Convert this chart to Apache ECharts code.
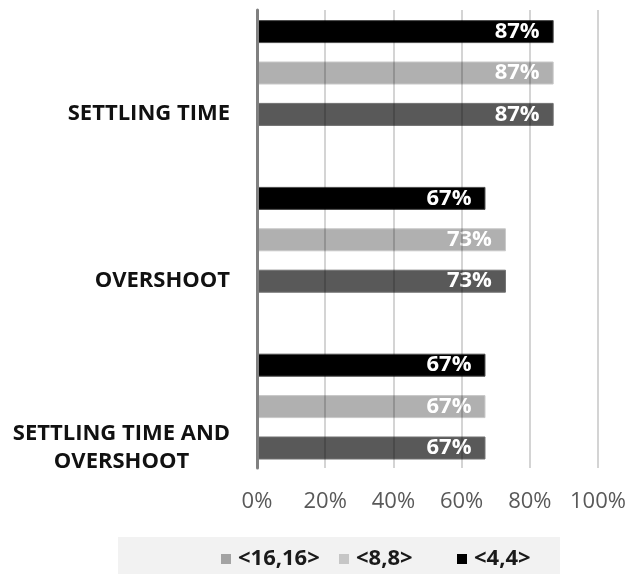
<!DOCTYPE html>
<html>
<head>
<meta charset="utf-8">
<script src="https://cdn.jsdelivr.net/npm/echarts@6/dist/echarts.min.js"></script>
<style>
  html, body { margin: 0; padding: 0; background: #ffffff; }
  #chart { width: 628px; height: 574px; }
</style>
</head>
<body>
<div id="chart"></div>
<script>
// Categories, top to bottom
const categories = ['SETTLING TIME', 'OVERSHOOT', 'SETTLING TIME AND\nOVERSHOOT'];

// Percent of cases per configuration
const seriesNames = ['<4,4>', '<8,8>', '<16,16>'];
const values44 = [87, 67, 67];
const values88 = [87, 73, 67];
const values1616 = [87, 73, 67];

const xTicks = [0, 20, 40, 60, 80, 100];

const FONT = '"Open Sans", "DejaVu Sans", sans-serif';

const chart = echarts.init(document.getElementById('chart'), null, { renderer: 'canvas' });

function barSeries(name, data, color, border) {
  return {
    name: name,
    type: 'bar',
    xAxisIndex: 1,
    yAxisIndex: 1,
    data: data,
    barWidth: 23,
    barGap: '80%',
    itemStyle: { color: color, borderColor: border, borderWidth: 1 },
    label: {
      show: true,
      position: 'insideRight',
      distance: 14,
      formatter: '{c}%',
      color: '#ffffff',
      fontFamily: FONT,
      fontWeight: 'bold',
      fontSize: 22
    },
    z: 2
  };
}

function legendAt(left, name, color) {
  return {
    left: left,
    top: 543,
    itemWidth: 10,
    itemHeight: 10,
    icon: 'rect',
    selectedMode: false,
    itemStyle: { borderWidth: 0 },
    data: [{ name: name, itemStyle: { color: color, borderWidth: 0 } }],
    textStyle: {
      color: '#1a1a1a',
      fontFamily: FONT,
      fontWeight: 'bold',
      fontSize: 22,
      padding: [0, 0, 0, 2]
    }
  };
}

chart.setOption({
  animation: false,
  backgroundColor: '#ffffff',
  graphic: [{
    type: 'rect',
    left: 118,
    top: 537,
    shape: { width: 442, height: 37 },
    style: { fill: '#f2f2f2' },
    z: -1
  }],
  grid: [
    // frame: gridlines, y axis line and percent labels
    { left: 257, right: 30, top: 10, bottom: 106, outerBoundsMode: 'none' },
    // bars and category labels
    { left: 257, right: 30, top: -10.4, bottom: 84, outerBoundsMode: 'none' }
  ],
  xAxis: [
    {
      gridIndex: 0,
      type: 'value',
      min: 0,
      max: 100,
      interval: 20,
      z: 5,
      axisLine: { show: false },
      axisTick: { show: false },
      splitLine: { show: true, lineStyle: { color: 'rgba(0,0,0,0.17)', width: 2 } },
      axisLabel: {
        margin: 23,
        color: '#595959',
        fontFamily: FONT,
        fontSize: 22,
        formatter: function (v) { return xTicks.indexOf(v) >= 0 ? v + '%' : ''; }
      }
    },
    {
      gridIndex: 1,
      type: 'value',
      min: 0,
      max: 100,
      show: false
    }
  ],
  yAxis: [
    {
      gridIndex: 0,
      type: 'value',
      z: 6,
      axisLine: { show: true, lineStyle: { color: '#808080', width: 3 } },
      axisTick: { show: false },
      axisLabel: { show: false },
      splitLine: { show: false }
    },
    {
      gridIndex: 1,
      type: 'category',
      inverse: true,
      data: categories,
      axisLine: { show: false },
      axisTick: { show: false },
      splitLine: { show: false },
      axisLabel: {
        margin: 27,
        padding: [82, 0, 0, 0],
        color: '#111111',
        fontFamily: FONT,
        fontWeight: 'bold',
        fontSize: 22,
        formatter: function (v) {
          if (v.indexOf('\n') >= 0) {
            return v.split('\n').map(function (s) { return '{c|' + s + '}'; }).join('\n');
          }
          return v;
        },
        rich: {
          c: {
            width: 217,
            align: 'center',
            lineHeight: 28,
            color: '#111111',
            fontFamily: FONT,
            fontWeight: 'bold',
            fontSize: 22
          }
        }
      }
    }
  ],
  legend: [
    legendAt(216, '<16,16>', '#a3a3a3'),
    legendAt(334, '<8,8>', '#c6c6c6'),
    legendAt(452, '<4,4>', '#000000')
  ],
  series: [
    barSeries(seriesNames[0], values44, '#000000', '#4a4a4a'),
    barSeries(seriesNames[1], values88, '#b0b0b0', '#c8c8c8'),
    barSeries(seriesNames[2], values1616, '#595959', '#707070')
  ]
});
</script>
</body>
</html>
